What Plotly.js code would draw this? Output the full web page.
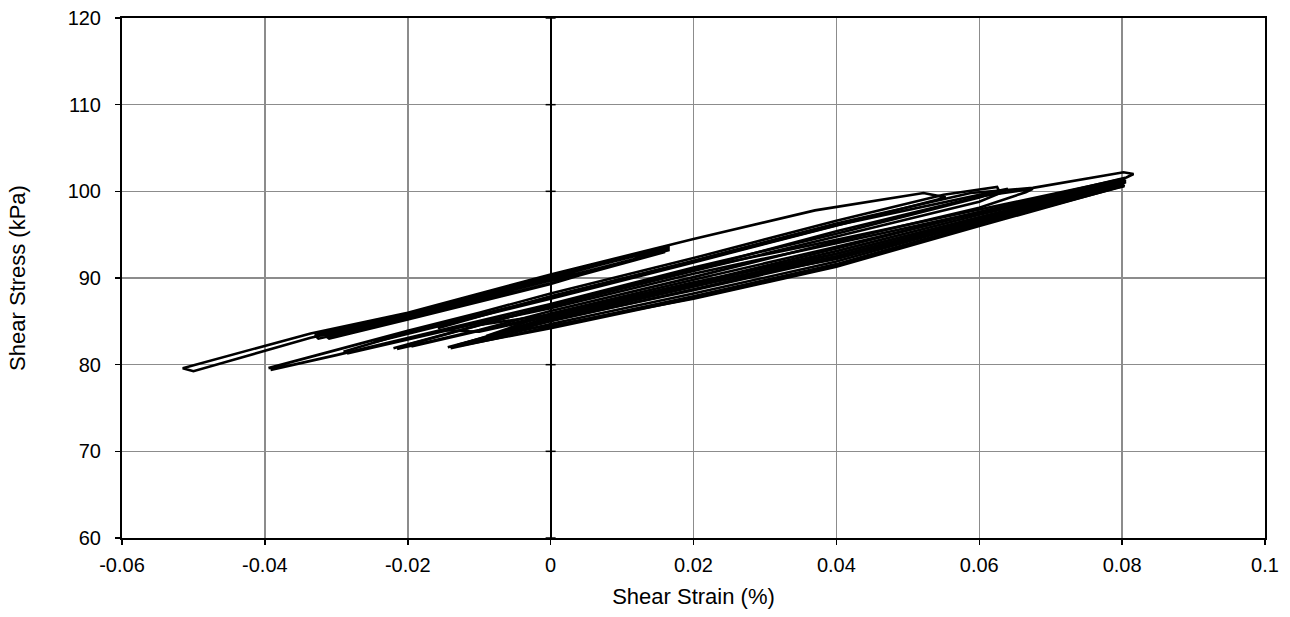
<!DOCTYPE html>
<html>
<head>
<meta charset="utf-8">
<script src="https://cdn.plot.ly/plotly-3.0.1.min.js"></script>
<style>
  html, body { margin: 0; padding: 0; background: #fff; }
  #chart { width: 1290px; height: 617px; }
</style>
</head>
<body>
<div id="chart"></div>
<script>
// Shear strain (%) and shear stress (kPa) — hysteresis loops, joined with null breaks
const strainLoopA = [-0.0248, 0.000, 0.020, 0.040, 0.0553, 0.0522, 0.037, 0.020, 0.000, -0.020, -0.0336, -0.0515, -0.0500, -0.0336, -0.020, 0.000, 0.0165, 0.0165, 0.000, -0.020, -0.033, -0.0325, -0.020, 0.000, 0.016, 0.0155, 0.000, -0.020, -0.0315, -0.031, -0.020, 0.000, 0.0150];
const stressLoopA = [82.6, 87.6, 91.8, 96.0, 99.3, 99.8, 97.8, 94.5, 90.4, 86.0, 83.6, 79.6, 79.25, 83.1, 85.6, 89.7, 93.2, 93.5, 90.1, 85.8, 83.4, 83.0, 85.3, 89.4, 93.0, 93.4, 90.0, 85.6, 83.3, 83.0, 85.2, 89.3, 93.0];

const strainLoopB1 = [-0.0395, -0.0300, -0.0200, -0.0100, 0.0000, 0.0200, 0.0400, 0.0550, 0.0625, 0.0628, 0.0600, 0.0400, 0.0200, 0.0000, -0.0200, -0.0300, -0.0392];
const stressLoopB1 = [79.6, 81.7, 83.9, 86.0, 88.2, 92.3, 96.6, 99.6, 100.5, 100.0, 99.3, 95.1, 91.2, 87.0, 83.1, 81.1, 79.4];

const strainLoopB3 = [-0.0220, -0.0100, 0.0000, 0.0200, 0.0400, 0.0600, 0.0675, 0.0665, 0.0600, 0.0400, 0.0200, 0.0000, -0.0100, -0.0215];
const stressLoopB3 = [81.9, 84.6, 86.8, 91.0, 95.4, 99.4, 100.3, 99.9, 98.1, 94.2, 90.1, 86.2, 84.0, 81.8];

const strainLoopB4 = [-0.0158, 0.0000, 0.0200, 0.0400, 0.0588, 0.0675, 0.0802, 0.0816, 0.0806, 0.0700, 0.0600, 0.0400, 0.0200, 0.0000, -0.0100, -0.0155];
const stressLoopB4 = [84.2, 87.9, 92.0, 96.3, 99.8, 100.4, 102.2, 102.0, 101.6, 99.5, 97.6, 93.4, 89.4, 85.6, 83.8, 84.0];

const strainLoopB5 = [-0.0290, -0.0200, 0.0000, 0.0200, 0.0400, 0.0600, 0.0640, 0.0635, 0.0600, 0.0400, 0.0200, 0.0000, -0.0200, -0.0285];
const stressLoopB5 = [81.5, 83.7, 87.8, 91.9, 96.1, 99.6, 100.3, 100.0, 98.8, 94.8, 90.8, 86.7, 82.9, 81.3];

const strainLoopC1 = [-0.0144, 0.0000, 0.0200, 0.0400, 0.0600, 0.0795, 0.0800, 0.0790, 0.0600, 0.0400, 0.0200, 0.0000, -0.0140];
const stressLoopC1 = [82.0, 85.2, 89.0, 92.8, 97.0, 101.0, 100.7, 100.5, 96.3, 91.6, 87.9, 84.4, 81.9];

const strainLoopC2 = [-0.0120, 0.0000, 0.0200, 0.0400, 0.0600, 0.0798, 0.0802, 0.0792, 0.0600, 0.0400, 0.0200, 0.0000, -0.0118];
const stressLoopC2 = [82.5, 85.5, 89.3, 93.1, 97.3, 101.1, 100.9, 100.6, 96.5, 91.9, 88.2, 84.7, 82.4];

const strainLoopC3 = [-0.0090, 0.0000, 0.0200, 0.0400, 0.0600, 0.0800, 0.0804, 0.0794, 0.0600, 0.0400, 0.0200, 0.0000, -0.0088];
const stressLoopC3 = [83.3, 85.9, 89.8, 93.6, 97.5, 101.3, 101.0, 100.8, 96.8, 92.3, 88.6, 85.1, 83.2];

const strainLoopC4 = [-0.0200, 0.0000, 0.0200, 0.0400, 0.0600, 0.0800, 0.0805, 0.0795, 0.0600, 0.0400, 0.0200, 0.0000, -0.0195];
const stressLoopC4 = [82.3, 86.8, 91.0, 94.4, 97.9, 101.4, 101.2, 100.9, 97.0, 92.8, 89.5, 85.8, 82.1];

const strainLoopC5 = [-0.0100, 0.0000, 0.0200, 0.0400, 0.0600, 0.0800, 0.0803, 0.0795, 0.0600, 0.0400, 0.0200, 0.0000, -0.0098];
const stressLoopC5 = [84.8, 86.5, 90.5, 94.0, 97.6, 101.2, 101.0, 100.7, 96.7, 92.5, 89.2, 85.8, 84.6];

const strainLoopC6 = [-0.0060, 0.0000, 0.0200, 0.0400, 0.0600, 0.0797, 0.0801, 0.0792, 0.0600, 0.0400, 0.0200, 0.0000, -0.0058];
const stressLoopC6 = [84.0, 85.4, 89.1, 92.2, 96.5, 100.8, 100.6, 100.4, 96.0, 91.3, 87.6, 84.5, 83.9];

const strainLoopC7 = [-0.0130, 0.0000, 0.0200, 0.0400, 0.0600, 0.0799, 0.0803, 0.0793, 0.0600, 0.0400, 0.0200, 0.0000, -0.0128];
const stressLoopC7 = [82.3, 85.0, 88.7, 92.5, 96.8, 100.9, 100.6, 100.4, 96.2, 91.4, 87.7, 84.2, 82.2];

const xTicks = [-0.06, -0.04, -0.02, 0, 0.02, 0.04, 0.06, 0.08, 0.1];
const xTickLabels = ["-0.06", "-0.04", "-0.02", "0", "0.02", "0.04", "0.06", "0.08", "0.1"];
const yTicks = [60, 70, 80, 90, 100, 110, 120];
const yTickLabels = ["60", "70", "80", "90", "100", "110", "120"];

const loopsX = [strainLoopA, strainLoopB1, strainLoopB3, strainLoopB4, strainLoopB5, strainLoopC1, strainLoopC2, strainLoopC3, strainLoopC4, strainLoopC5, strainLoopC6, strainLoopC7];
const loopsY = [stressLoopA, stressLoopB1, stressLoopB3, stressLoopB4, stressLoopB5, stressLoopC1, stressLoopC2, stressLoopC3, stressLoopC4, stressLoopC5, stressLoopC6, stressLoopC7];

const xs = [], ys = [];
loopsX.forEach((lx, i) => {
  if (i > 0) { xs.push(null); ys.push(null); }
  lx.forEach((v, j) => { xs.push(v); ys.push(loopsY[i][j]); });
});

const trace = {
  x: xs, y: ys, type: 'scatter', mode: 'lines',
  connectgaps: false,
  line: { color: '#000000', width: 2.6 },
  hoverinfo: 'skip', showlegend: false
};

const font = { family: 'Liberation Sans, Arial, sans-serif', size: 20, color: '#000' };
const titleFont = { family: 'Liberation Sans, Arial, sans-serif', size: 22, color: '#000' };

const shapes = yTicks.map(t => ({
  type: 'line', xref: 'x', yref: 'y', x0: -0.0007, x1: 0.0007, y0: t, y1: t,
  line: { color: '#000', width: 1.5 }, layer: 'above'
}));

const layout = {
  width: 1290, height: 617,
  margin: { l: 122, r: 25, t: 18, b: 79 },
  paper_bgcolor: '#fff', plot_bgcolor: '#fff',
  font: font,
  showlegend: false,
  xaxis: {
    range: [-0.06, 0.1], tickmode: 'array', tickvals: xTicks, ticktext: xTickLabels,
    showgrid: true, gridcolor: '#8c8c8c', gridwidth: 1.5,
    zeroline: true, zerolinecolor: '#000', zerolinewidth: 2,
    showline: true, linecolor: '#000', linewidth: 2, mirror: true,
    ticks: 'outside', ticklen: 5, tickcolor: '#000', tickwidth: 1.5,
    ticklabelstandoff: 3,
    tickfont: font,
    title: { text: 'Shear Strain (%)', font: titleFont, standoff: 14 }
  },
  yaxis: {
    range: [60, 120], tickmode: 'array', tickvals: yTicks, ticktext: yTickLabels,
    showgrid: true, gridcolor: '#8c8c8c', gridwidth: 1.5,
    zeroline: false,
    showline: true, linecolor: '#000', linewidth: 2, mirror: true,
    ticks: 'outside', ticklen: 5, tickcolor: '#000', tickwidth: 1.5,
    ticklabelstandoff: 10,
    tickfont: font,
    title: { text: 'Shear Stress (kPa)', font: titleFont, standoff: 36 }
  },
  shapes: shapes
};

Plotly.newPlot('chart', [trace], layout, { displayModeBar: false, staticPlot: true });
</script>
</body>
</html>
